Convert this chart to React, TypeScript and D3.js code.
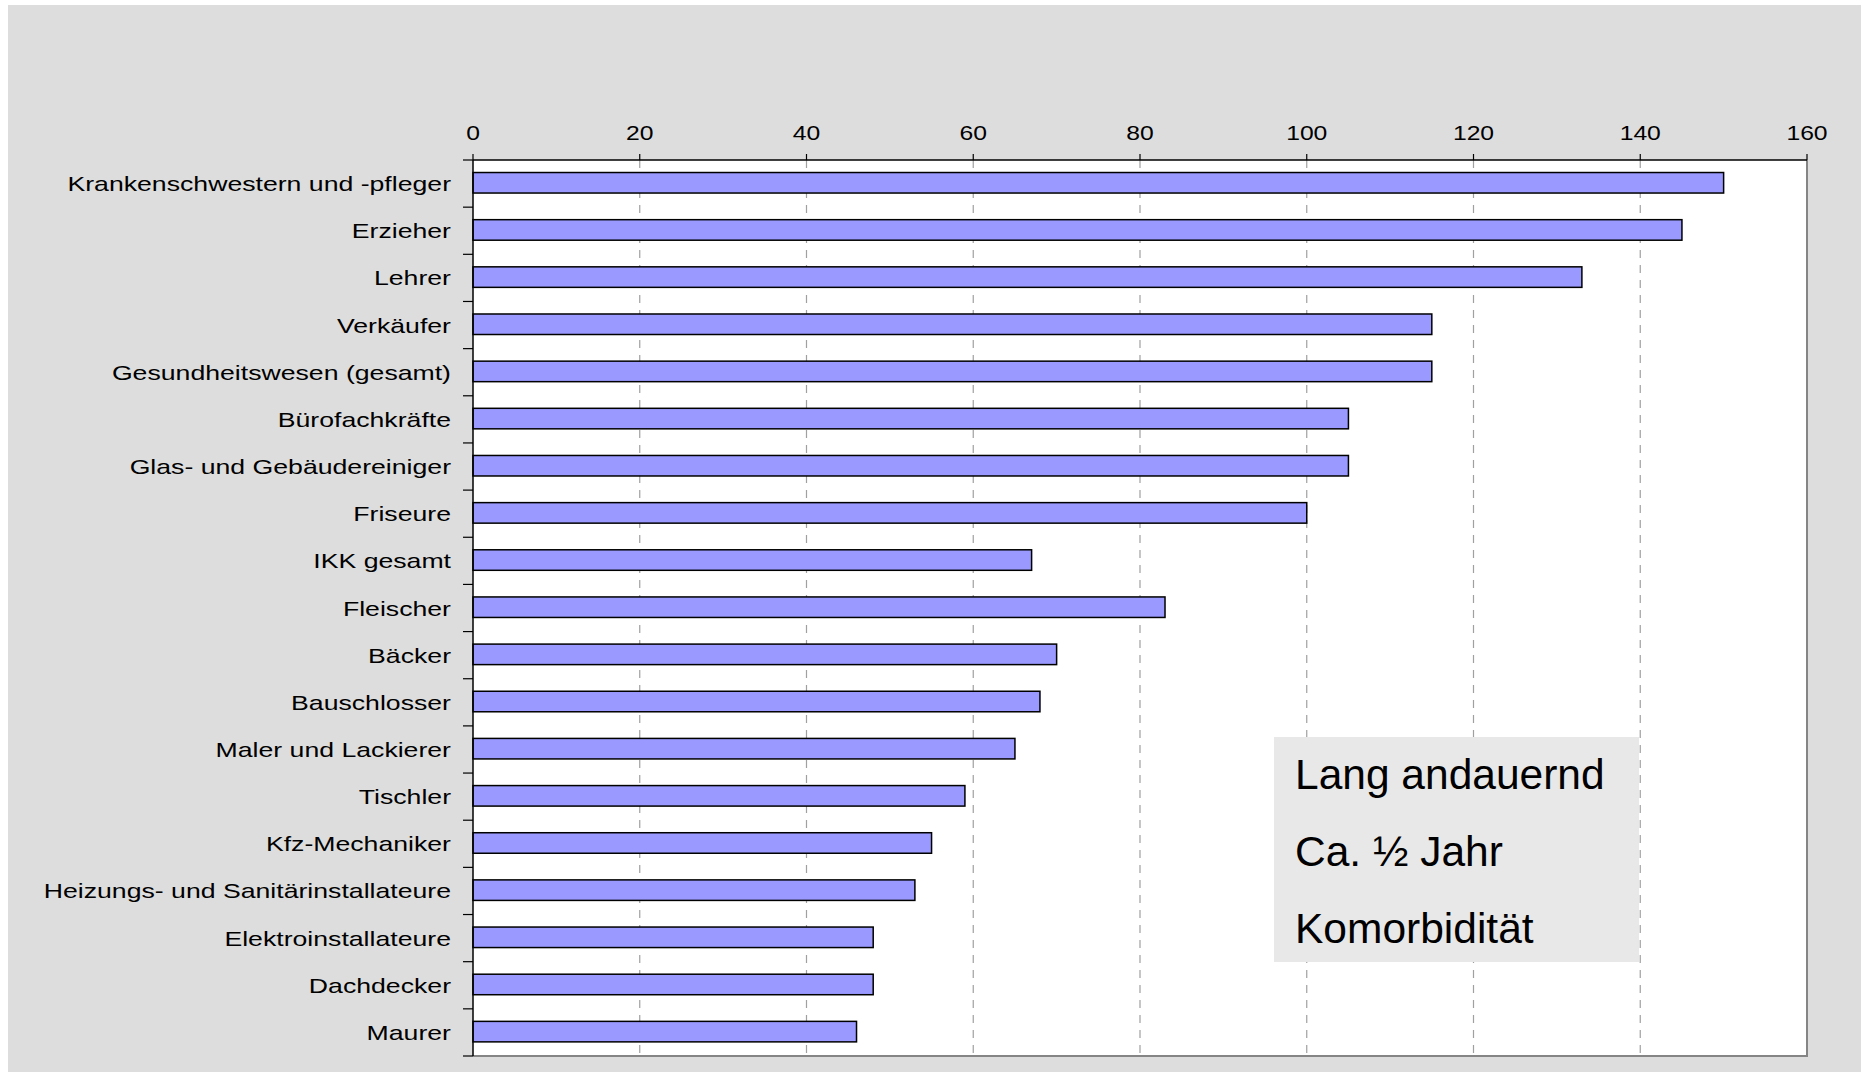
import React from "react";
import * as d3 from "d3";

const categories = [
  "Krankenschwestern und -pfleger",
  "Erzieher",
  "Lehrer",
  "Verkäufer",
  "Gesundheitswesen (gesamt)",
  "Bürofachkräfte",
  "Glas- und Gebäudereiniger",
  "Friseure",
  "IKK gesamt",
  "Fleischer",
  "Bäcker",
  "Bauschlosser",
  "Maler und Lackierer",
  "Tischler",
  "Kfz-Mechaniker",
  "Heizungs- und Sanitärinstallateure",
  "Elektroinstallateure",
  "Dachdecker",
  "Maurer",
];
const values = [150, 145, 133, 115, 115, 105, 105, 100, 67, 83, 70, 68, 65, 59, 55, 53, 48, 48, 46];
const xTicks = [0, 20, 40, 60, 80, 100, 120, 140, 160];
const noteLines = ["Lang andauernd", "Ca. ½ Jahr", "Komorbidität"];

const W = 1865;
const H = 1072;
const left = 473;
const right = 1807;
const top = 160;
const bottom = 1056;
const FONT = "'Liberation Sans', Arial, sans-serif";
const SX = 1.3;
const TSX = 1.28;

export default function App() {
  const x = d3.scaleLinear().domain([0, 160]).range([left, right]);
  const y = d3.scaleBand<string>().domain(categories).range([top, bottom]).paddingInner(0).paddingOuter(0);
  const bw = y.bandwidth();
  const barH = bw * 0.435;
  const boundaries = d3.range(categories.length + 1).map((i) => top + i * bw);

  return (
    <svg
      width={W}
      height={H}
      style={{ position: "absolute", left: 0, top: 0, display: "block" }}
      fontFamily={FONT}
    >
      <rect x={0} y={0} width={W} height={H} fill="#ffffff" />
      <rect x={8} y={5} width={1853} height={1067} fill="#dddddd" />
      <rect x={left} y={top} width={right - left} height={bottom - top} fill="#ffffff" />
      {/* grid */}
      {xTicks.filter((t) => t > 0 && t < 160).map((t) => (
        <line
          key={"g" + t}
          x1={x(t)}
          x2={x(t)}
          y1={top}
          y2={bottom}
          stroke="#a0a0a0"
          strokeWidth={1.2}
          strokeDasharray="8,7"
        />
      ))}
      {/* bars */}
      {categories.map((c, i) => {
        const cy = (y(c) as number) + bw / 2 - 0.8;
        return (
          <rect
            key={c}
            x={x(0)}
            y={cy - barH / 2}
            width={x(values[i]) - x(0)}
            height={barH}
            fill="#9999ff"
            stroke="#000000"
            strokeWidth={1.5}
          />
        );
      })}
      {/* note box */}
      <rect x={1274} y={737} width={365} height={225} fill="#e8e8e8" />
      {noteLines.map((t, i) => (
        <text key={t} x={1295} y={789 + i * 77} fontSize={42.5} fill="#000">
          {t}
        </text>
      ))}
      {/* right/bottom borders */}
      <line x1={right} x2={right} y1={top} y2={bottom} stroke="#858585" strokeWidth={2} />
      <line x1={left} x2={right + 1} y1={bottom} y2={bottom} stroke="#858585" strokeWidth={2} />
      {/* top axis */}
      <line x1={left} x2={right} y1={top} y2={top} stroke="#000" strokeWidth={1.5} />
      {xTicks.map((t) => (
        <g key={"t" + t}>
          <line x1={x(t)} x2={x(t)} y1={top - 6} y2={top} stroke="#000" strokeWidth={1.2} />
          <text
            transform={`translate(${x(t)},139.5) scale(${TSX},1)`}
            textAnchor="middle"
            fontSize={19.3}
            fill="#000"
          >
            {t}
          </text>
        </g>
      ))}
      {/* left axis */}
      <line x1={left} x2={left} y1={top} y2={bottom} stroke="#000" strokeWidth={1.5} />
      {boundaries.map((b, i) => (
        <line key={"b" + i} x1={left - 10} x2={left} y1={b} y2={b} stroke="#000" strokeWidth={1.2} />
      ))}
      {categories.map((c) => (
        <text
          key={"l" + c}
          transform={`translate(451,${(y(c) as number) + bw / 2 + 7.5}) scale(${SX},1)`}
          textAnchor="end"
          fontSize={20.5}
          fill="#000"
        >
          {c}
        </text>
      ))}
    </svg>
  );
}
